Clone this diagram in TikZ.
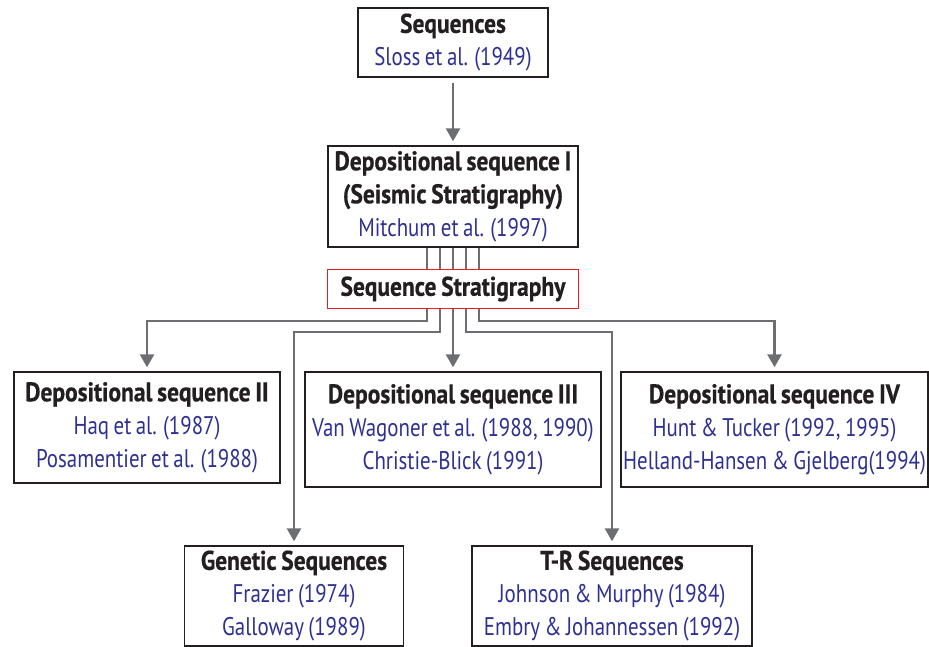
\documentclass[tikz,border=0pt]{standalone}
\usepackage{fontspec}
\setmainfont{PT Sans}[FakeStretch=0.82, WordSpace=0.8,
  BoldFeatures={FakeStretch=0.87, FakeBold=0.6}]
\usetikzlibrary{arrows.meta,calc}
\definecolor{ink}{HTML}{231F20}
\definecolor{refblue}{HTML}{2E3192}
\definecolor{wire}{HTML}{6D6E71}
\definecolor{hilite}{HTML}{ED1C24}
\newcommand\hd[1]{{\fontsize{27}{33}\selectfont\bfseries\color{ink}#1}}
\begin{document}
\begin{tikzpicture}[x=1pt,y=-1pt,
  box/.style={draw=ink, line width=1.4pt, fill=white, inner sep=0pt, align=center,
    text=refblue, font=\fontsize{25.5}{33}\selectfont},
  keybox/.style={box, draw=hilite, line width=1.2pt},
  conn/.style={draw=wire, line width=2.6pt},
  arr/.style={conn, -{Triangle[width=14pt,length=13pt]}, shorten >=4pt}
]
\useasboundingbox (0,0) rectangle (929,647);

% boxes
\node[box, minimum width=190pt, minimum height=69pt] (seq) at (453,42.5)
  {\hd{Sequences}\\Sloss et al. (1949)};
\node[box, minimum width=250pt, minimum height=101pt] (dep1) at (453,196.5)
  {\hd{Depositional sequence I}\\\hd{(Seismic Stratigraphy)}\\Mitchum et al. (1997)};
\node[keybox, minimum width=251pt, minimum height=39pt] (strat) at (453,289)
  {\hd{Sequence Stratigraphy}};
\node[box, minimum width=266pt, minimum height=111pt] (dep2) at (147,427.5)
  {\hd{Depositional sequence II}\\Haq et al. (1987)\\Posamentier et al. (1988)};
\node[box, minimum width=296pt, minimum height=115pt] (dep3) at (453,429.5)
  {\hd{Depositional sequence III}\\Van Wagoner et al. (1988, 1990)\\Christie-Blick (1991)};
\node[box, minimum width=307pt, minimum height=115pt] (dep4) at (774.5,429.5)
  {\hd{Depositional sequence IV}\\Hunt \& Tucker (1992, 1995)\\Helland-Hansen \& Gjelberg(1994)};
\node[box, minimum width=219pt, minimum height=100pt] (gen) at (294,596)
  {\hd{Genetic Sequences}\\Frazier (1974)\\Galloway (1989)};
\node[box, minimum width=280pt, minimum height=100pt] (tr) at (612,596)
  {\hd{T-R Sequences}\\Johnson \& Murphy (1984)\\Embry \& Johannessen (1992)};

% Sloss to Mitchum
\draw[arr, shorten <=5pt] (seq.south) -- (dep1.north);

% five strands joining seismic stratigraphy and sequence stratigraphy
\foreach \dx in {-26,-13,0,13,26}
  \draw[conn] ($(dep1.south)+(\dx,0)$) -- ($(strat.north)+(\dx,0)$);

% branches to the later sequence models
\draw[arr] ($(strat.south)+(-26,0)$) -- ++(0,12) -| (dep2.north);
\draw[arr] ($(strat.south)+(-13,0)$) -- ++(0,23) -| (gen.north);
\draw[arr] (strat.south) -- (dep3.north);
\draw[arr] ($(strat.south)+(13,0)$) -- ++(0,23) -| (tr.north);
\draw[arr] ($(strat.south)+(26,0)$) -- ++(0,12) -| (dep4.north);
\end{tikzpicture}
\end{document}
